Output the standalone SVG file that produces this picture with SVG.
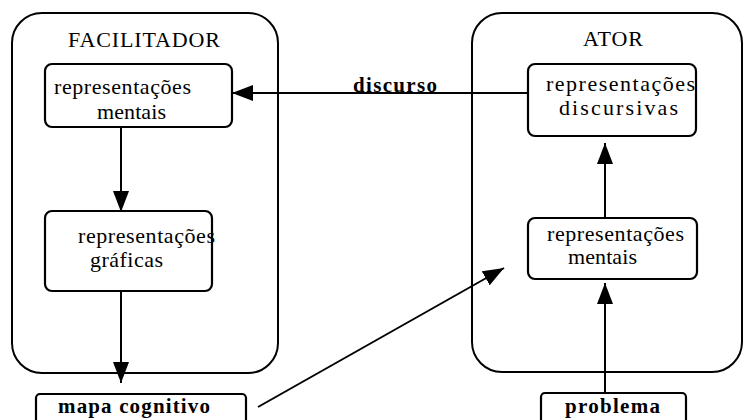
<svg xmlns="http://www.w3.org/2000/svg" width="745" height="420" viewBox="0 0 745 420">
<style>
.frame{fill:none;stroke:#000;stroke-width:2}
.box{fill:#fff;stroke:#000;stroke-width:2.2}
.t{font-family:"Liberation Serif","Times New Roman",serif;font-size:22px;fill:#000}
.b{font-weight:bold;font-size:21px}
.c{stroke:#000;stroke-width:2;fill:none;marker-end:url(#ah)}
</style>
<defs>
<marker id="ah" markerUnits="userSpaceOnUse" markerWidth="22" markerHeight="16" refX="21" refY="8" orient="auto">
<path d="M0,0 L21,8 L0,16 z" fill="#000"/>
</marker>
</defs>
<g id="facilitador">
<rect class="frame" x="12" y="13" width="266" height="360" rx="30"/>
<text class="t" x="68" y="47" textLength="152" lengthAdjust="spacing">FACILITADOR</text>
</g>
<g id="ator">
<rect class="frame" x="472" y="13" width="270" height="359" rx="30"/>
<text class="t" x="583" y="46" textLength="60" lengthAdjust="spacing">ATOR</text>
</g>
<g id="connectors">
<line class="c" x1="528" y1="93" x2="232" y2="93"/>
<line class="c" x1="121" y1="127" x2="121" y2="212"/>
<line class="c" x1="121" y1="291" x2="121" y2="383"/>
<line class="c" x1="605" y1="218" x2="605" y2="143"/>
<line class="c" x1="605" y1="393" x2="605" y2="283"/>
<line class="c" x1="258" y1="407" x2="504" y2="268"/>
<text class="t b" x="353" y="92" textLength="84" lengthAdjust="spacing">discurso</text>
</g>
<g id="fac-mentais">
<rect class="box" x="45" y="64" width="187" height="63" rx="7"/>
<text class="t" x="54" y="94" textLength="137" lengthAdjust="spacing">representações</text>
<text class="t" x="97" y="119" textLength="69" lengthAdjust="spacing">mentais</text>
</g>
<g id="fac-graficas">
<rect class="box" x="45" y="211" width="167" height="80" rx="7"/>
<text class="t" x="78" y="243" textLength="137" lengthAdjust="spacing">representações</text>
<text class="t" x="90" y="267" textLength="73" lengthAdjust="spacing">gráficas</text>
</g>
<g id="ator-discursivas">
<rect class="box" x="528" y="64" width="168" height="72" rx="7"/>
<text class="t" x="546" y="91" textLength="149" lengthAdjust="spacing">representações</text>
<text class="t" x="559" y="115" textLength="119" lengthAdjust="spacing">discursivas</text>
</g>
<g id="ator-mentais">
<rect class="box" x="528" y="218" width="169" height="61" rx="7"/>
<text class="t" x="547" y="241" textLength="137" lengthAdjust="spacing">representações</text>
<text class="t" x="568" y="264" textLength="69" lengthAdjust="spacing">mentais</text>
</g>
<g id="mapa">
<rect class="box" x="36" y="394" width="210" height="40" rx="4"/>
<text class="t b" x="58" y="413" textLength="152" lengthAdjust="spacing">mapa cognitivo</text>
</g>
<g id="problema">
<rect class="box" x="541" y="393" width="145" height="40" rx="4"/>
<text class="t b" x="565" y="413" textLength="95" lengthAdjust="spacing">problema</text>
</g>
</svg>
